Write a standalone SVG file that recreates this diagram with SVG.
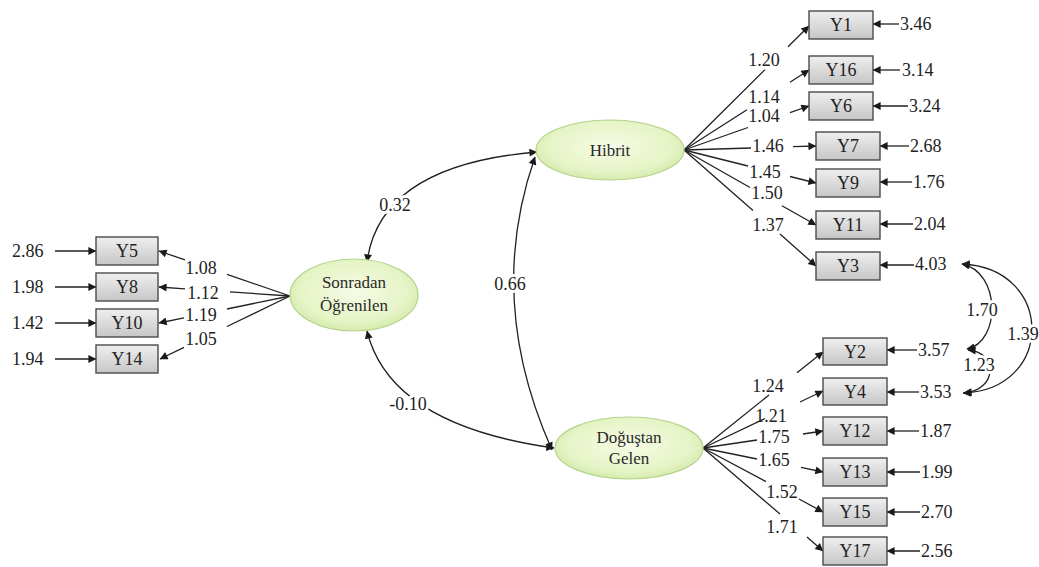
<svg xmlns="http://www.w3.org/2000/svg" width="1039" height="567" viewBox="0 0 1039 567" font-family="Liberation Serif, Times New Roman, DejaVu Serif, serif">
  <defs>
    <marker id="ah" viewBox="0 0 10 10" refX="9.5" refY="5" markerWidth="10" markerHeight="8" markerUnits="userSpaceOnUse" orient="auto-start-reverse">
      <path d="M0,0 L10,5 L0,10 z" fill="#1a1a1a"/>
    </marker>
    <radialGradient id="latentFill" cx="50%" cy="45%" r="60%">
      <stop offset="0" stop-color="#f6fbe6"/>
      <stop offset="0.7" stop-color="#e6f4c6"/>
      <stop offset="1" stop-color="#cfe7a4"/>
    </radialGradient>
    <linearGradient id="boxFill" x1="0" y1="0" x2="0" y2="1">
      <stop offset="0" stop-color="#efefef"/>
      <stop offset="1" stop-color="#c6c6c6"/>
    </linearGradient>
  </defs>
  <style>
    .latent { fill: url(#latentFill); stroke: #b3d38c; stroke-width: 1.2; }
    .box { fill: url(#boxFill); stroke: #4a4a4a; stroke-width: 1.4; }
    .ltxt { font-size: 17px; fill: #2a2a2a; text-anchor: middle; }
    .btxt { font-size: 18px; fill: #222; text-anchor: middle; }
    .num { font-size: 18px; fill: #222; }
    .mid { text-anchor: middle; }
    .halo { stroke: #ffffff; stroke-width: 6; paint-order: stroke; stroke-linejoin: round; }
    .path { fill: none; stroke: #222; stroke-width: 1.3; }
    .arrow { marker-end: url(#ah); }
    .both { marker-start: url(#ah); marker-end: url(#ah); }
  </style>

  <rect width="1039" height="567" fill="#ffffff"/>

  <!-- connectors: factor covariances, loadings, error terms, error covariances -->
  <g id="connectors">
    <!-- factor covariances -->
    <path class="path both" d="M367,262 Q380,165 537,152"/>
    <path class="path both" d="M535,157 Q485,300 552,450"/>
    <path class="path both" d="M367,331 Q390,425 554,448"/>

    <!-- Sonradan Öğrenilen loadings -->
    <path class="path arrow" d="M290,296 L227,274.4 M185,259.9 L159,251"/>
    <path class="path arrow" d="M290,296 L230,291.9 M185,288.8 L159,287"/>
    <path class="path arrow" d="M290,296 L227,309 M184,317.8 L159,323"/>
    <path class="path arrow" d="M290,296 L227,326.5 M184,347.4 L160,359"/>

    <!-- Hibrit loadings -->
    <path class="path arrow" d="M684,150 L765,69.6 M788,46.8 L809,26"/>
    <path class="path arrow" d="M684,150 L747,109.7 M790,82.2 L809,70"/>
    <path class="path arrow" d="M684,150 L748,127.5 M790,112.7 L809,106"/>
    <path class="path arrow" d="M684,150 L751,148 M793,146.6 L816,146"/>
    <path class="path arrow" d="M684,150 L748,166 M790,176.5 L816,183"/>
    <path class="path arrow" d="M684,150 L750,187.5 M782,205.7 L816,225"/>
    <path class="path arrow" d="M684,150 L753,210.6 M780,234 L816,266"/>

    <!-- Doğuştan Gelen loadings -->
    <path class="path arrow" d="M703,448 L769,395 M797,372.8 L823,352"/>
    <path class="path arrow" d="M703,448 L765,418.5 M800,402 L823,391"/>
    <path class="path arrow" d="M703,448 L757,440 M803,434 L823,431"/>
    <path class="path arrow" d="M703,448 L757,459 M801,467.4 L823,472"/>
    <path class="path arrow" d="M703,448 L766,481.6 M799,499 L823,512"/>
    <path class="path arrow" d="M703,448 L780,514 M807,537 L823,551"/>

    <!-- error terms, left -->
    <path class="path arrow" d="M55,251 L96,251"/>
    <path class="path arrow" d="M55,287 L96,287"/>
    <path class="path arrow" d="M55,323 L96,323"/>
    <path class="path arrow" d="M55,359 L96,359"/>

    <!-- error terms, right -->
    <path class="path arrow" d="M899,24 L873,24"/>
    <path class="path arrow" d="M900,70 L873,70"/>
    <path class="path arrow" d="M908,106 L873,106"/>
    <path class="path arrow" d="M909,146 L880,146"/>
    <path class="path arrow" d="M912,182 L880,182"/>
    <path class="path arrow" d="M913,224 L880,224"/>
    <path class="path arrow" d="M914,265 L880,265"/>
    <path class="path arrow" d="M917,350 L887,350"/>
    <path class="path arrow" d="M919,392 L887,392"/>
    <path class="path arrow" d="M919,431 L887,431"/>
    <path class="path arrow" d="M920,472 L887,472"/>
    <path class="path arrow" d="M920,512 L887,512"/>
    <path class="path arrow" d="M920,551 L887,551"/>

    <!-- error covariances -->
    <path class="path both" d="M962,264 C1001,272 1001,342 967,349"/>
    <path class="path both" d="M968,350 C998,352 998,390 964,393"/>
    <path class="path both" d="M962,264 C1055,268 1055,390 963,393"/>
  </g>

  <!-- covariance labels -->
  <g id="cov-labels" class="num mid">
    <text class="halo" x="395" y="211">0.32</text>
    <text class="halo" x="510" y="290">0.66</text>
    <text class="halo" x="408" y="410">-0.10</text>
    <text class="halo" x="982" y="316">1.70</text>
    <text class="halo" x="979" y="371">1.23</text>
    <text class="halo" x="1023" y="340">1.39</text>
  </g>

  <!-- latent factors -->
  <g id="sonradan">
    <ellipse class="latent" cx="354" cy="295" rx="64" ry="36"/>
    <text class="ltxt" x="354" y="288">Sonradan</text>
    <text class="ltxt" x="354" y="311">Öğrenilen</text>
  </g>
  <g id="hibrit">
    <ellipse class="latent" cx="610" cy="150" rx="74" ry="30"/>
    <text class="ltxt" x="610" y="156">Hibrit</text>
  </g>
  <g id="dogustan">
    <ellipse class="latent" cx="629" cy="448" rx="74" ry="31"/>
    <text class="ltxt" x="629" y="443">Doğuştan</text>
    <text class="ltxt" x="629" y="464">Gelen</text>
  </g>

  <!-- observed indicators: Sonradan Öğrenilen -->
  <g id="Y5"><rect class="box" x="96" y="237" width="62" height="28"/><text class="btxt" x="127" y="257">Y5</text></g>
  <g id="Y8"><rect class="box" x="96" y="273" width="62" height="28"/><text class="btxt" x="127" y="293">Y8</text></g>
  <g id="Y10"><rect class="box" x="96" y="309" width="62" height="28"/><text class="btxt" x="127" y="329">Y10</text></g>
  <g id="Y14"><rect class="box" x="96" y="345" width="62" height="28"/><text class="btxt" x="127" y="365">Y14</text></g>

  <!-- observed indicators: Hibrit -->
  <g id="Y1"><rect class="box" x="809" y="11" width="64" height="28"/><text class="btxt" x="841" y="31">Y1</text></g>
  <g id="Y16"><rect class="box" x="809" y="56" width="64" height="28"/><text class="btxt" x="841" y="76">Y16</text></g>
  <g id="Y6"><rect class="box" x="809" y="92" width="64" height="28"/><text class="btxt" x="841" y="112">Y6</text></g>
  <g id="Y7"><rect class="box" x="816" y="132" width="64" height="28"/><text class="btxt" x="848" y="152">Y7</text></g>
  <g id="Y9"><rect class="box" x="816" y="169" width="64" height="28"/><text class="btxt" x="848" y="189">Y9</text></g>
  <g id="Y11"><rect class="box" x="816" y="211" width="64" height="28"/><text class="btxt" x="848" y="231">Y11</text></g>
  <g id="Y3"><rect class="box" x="816" y="252" width="64" height="28"/><text class="btxt" x="848" y="272">Y3</text></g>

  <!-- observed indicators: Doğuştan Gelen -->
  <g id="Y2"><rect class="box" x="823" y="338" width="64" height="27"/><text class="btxt" x="855" y="358">Y2</text></g>
  <g id="Y4"><rect class="box" x="823" y="378" width="64" height="27"/><text class="btxt" x="855" y="398">Y4</text></g>
  <g id="Y12"><rect class="box" x="823" y="417" width="64" height="28"/><text class="btxt" x="855" y="437">Y12</text></g>
  <g id="Y13"><rect class="box" x="823" y="458" width="64" height="28"/><text class="btxt" x="855" y="478">Y13</text></g>
  <g id="Y15"><rect class="box" x="823" y="498" width="64" height="28"/><text class="btxt" x="855" y="518">Y15</text></g>
  <g id="Y17"><rect class="box" x="823" y="537" width="64" height="28"/><text class="btxt" x="855" y="557">Y17</text></g>

  <!-- loading coefficients -->
  <g id="loadings" class="num mid">
    <text x="201" y="274">1.08</text>
    <text x="203" y="299">1.12</text>
    <text x="201" y="321">1.19</text>
    <text x="201" y="345">1.05</text>

    <text x="764" y="66">1.20</text>
    <text x="764" y="103">1.14</text>
    <text x="764" y="122">1.04</text>
    <text x="768" y="152">1.46</text>
    <text x="765" y="178">1.45</text>
    <text x="767" y="199">1.50</text>
    <text x="768" y="231">1.37</text>

    <text x="768" y="392">1.24</text>
    <text x="771" y="422">1.21</text>
    <text x="774" y="443">1.75</text>
    <text x="774" y="466">1.65</text>
    <text x="782" y="498">1.52</text>
    <text x="782" y="533">1.71</text>
  </g>

  <!-- error variances -->
  <g id="errors" class="num">
    <text x="12" y="257">2.86</text>
    <text x="12" y="293">1.98</text>
    <text x="12" y="329">1.42</text>
    <text x="12" y="365">1.94</text>

    <text x="900" y="30">3.46</text>
    <text x="902" y="76">3.14</text>
    <text x="909" y="112">3.24</text>
    <text x="910" y="152">2.68</text>
    <text x="913" y="188">1.76</text>
    <text x="914" y="230">2.04</text>
    <text x="915" y="270">4.03</text>

    <text x="918" y="356">3.57</text>
    <text x="920" y="398">3.53</text>
    <text x="920" y="437">1.87</text>
    <text x="921" y="478">1.99</text>
    <text x="921" y="518">2.70</text>
    <text x="921" y="557">2.56</text>
  </g>
</svg>
